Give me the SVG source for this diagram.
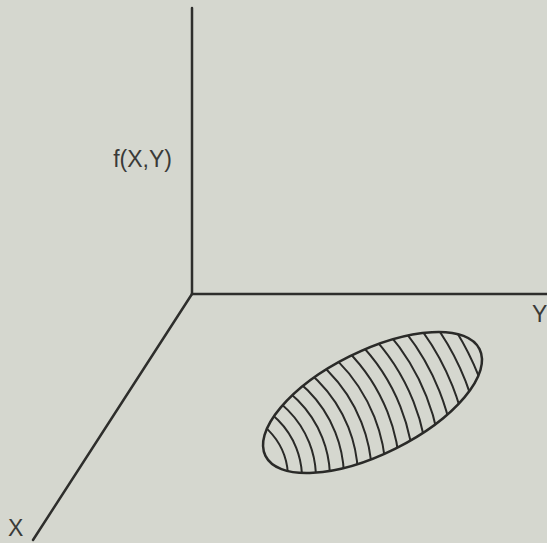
<svg xmlns="http://www.w3.org/2000/svg" width="547" height="543" viewBox="0 0 547 543">
<style>
.ax{stroke:#2e2e2c;stroke-width:2.5;fill:none;stroke-linecap:round}
.arc{stroke:#2a2a28;stroke-width:2;fill:none}
.lbl{font-family:"Liberation Sans",Arial,sans-serif;font-size:23px;fill:#3a3a38}
</style>
<defs>
<clipPath id="ec"><ellipse cx="372.5" cy="402.5" rx="119.6" ry="51.5" transform="rotate(-26.5 372.5 402.5)"/></clipPath>
</defs>
<rect width="547" height="543" fill="#d5d7cf"/>
<g id="axes" class="ax">
<line x1="192" y1="8" x2="192" y2="294"/>
<line x1="192" y1="294" x2="547" y2="294"/>
<line x1="192" y1="294" x2="33" y2="540"/>
</g>
<g id="labels">
<text class="lbl" x="172" y="167" text-anchor="end">f(X,Y)</text>
<text class="lbl" x="532" y="322">Y</text>
<text class="lbl" x="8" y="536">X</text>
</g>
<g id="region">
<g clip-path="url(#ec)" class="arc">
<circle cx="220" cy="478" r="68"/>
<circle cx="220" cy="478" r="82"/>
<circle cx="220" cy="478" r="96"/>
<circle cx="220" cy="478" r="110"/>
<circle cx="220" cy="478" r="124"/>
<circle cx="220" cy="478" r="138"/>
<circle cx="220" cy="478" r="152"/>
<circle cx="220" cy="478" r="166"/>
<circle cx="220" cy="478" r="180"/>
<circle cx="220" cy="478" r="194"/>
<circle cx="220" cy="478" r="208"/>
<circle cx="220" cy="478" r="222"/>
<circle cx="220" cy="478" r="236"/>
<circle cx="220" cy="478" r="250"/>
<circle cx="220" cy="478" r="264"/>
<circle cx="220" cy="478" r="278"/>
</g>
<ellipse cx="372.5" cy="402.5" rx="119.6" ry="51.5" transform="rotate(-26.5 372.5 402.5)" fill="none" stroke="#2a2a28" stroke-width="2.5"/>
</g>
</svg>
